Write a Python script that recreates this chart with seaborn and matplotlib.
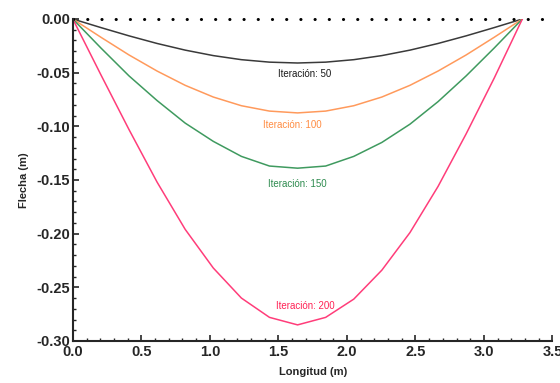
import numpy as np
import pandas as pd
import matplotlib
matplotlib.use("Agg")
import matplotlib.pyplot as plt
from matplotlib.ticker import MultipleLocator
import seaborn as sns

# Datos
longitud = [0.0, 0.205, 0.41, 0.615, 0.82, 1.025, 1.23, 1.435, 1.64,
            1.845, 2.05, 2.255, 2.46, 2.665, 2.87, 3.075, 3.28]
flecha_50 = [0.0, -0.008, -0.0157, -0.0228, -0.029, -0.0341, -0.0379, -0.0402, -0.041,
             -0.0402, -0.0379, -0.0341, -0.029, -0.0228, -0.0157, -0.008, 0.0]
flecha_100 = [0.0, -0.017, -0.0335, -0.0485, -0.0618, -0.0727, -0.0808, -0.0858, -0.0875,
              -0.0858, -0.0808, -0.0727, -0.0618, -0.0485, -0.0335, -0.017, 0.0]
flecha_150 = [0.0, -0.027, -0.053, -0.076, -0.097, -0.114, -0.128, -0.137, -0.139,
              -0.137, -0.128, -0.115, -0.098, -0.077, -0.053, -0.027, 0.0]
flecha_200 = [0.0, -0.052, -0.103, -0.152, -0.196, -0.232, -0.260, -0.278, -0.285,
              -0.278, -0.261, -0.234, -0.199, -0.156, -0.107, -0.055, 0.0]
series = ["Iteración: 50", "Iteración: 100", "Iteración: 150", "Iteración: 200"]
colores = ["#3a3a3a", "#ff9a5c", "#3f9a5f", "#ff3d7a"]
colores_texto = ["#1a1a1a", "#ff8c42", "#2e8b4f", "#ff2255"]
pos_etiquetas = [(1.69, -0.051), (1.60, -0.099), (1.64, -0.154), (1.70, -0.267)]

df = pd.DataFrame({
    "Longitud": longitud * 4,
    "Flecha": flecha_50 + flecha_100 + flecha_150 + flecha_200,
    "Serie": sum([[s] * len(longitud) for s in series], []),
})

sns.set_style("ticks")
plt.rcParams['font.family'] = ['Liberation Sans', 'DejaVu Sans']

fig = plt.figure(figsize=(5.6, 3.83), dpi=100)
ax = fig.add_axes([0.130, 0.1097, 0.8566, 0.8407])

sns.lineplot(data=df, x="Longitud", y="Flecha", hue="Serie", palette=colores,
             linewidth=1.1, legend=False, ax=ax)

# Línea de referencia punteada en cero
ax.plot([0, 3.5], [0, 0], color="black", linestyle=(0, (0.05, 4.6)), linewidth=2.2,
        dash_capstyle="round", solid_capstyle="round", clip_on=False)

for s, (xt, yt), c in zip(series, pos_etiquetas, colores_texto):
    ax.text(xt, yt, s, color=c, fontsize=7, ha="center", va="center")

ax.set_xlim(0, 3.5)
ax.set_ylim(-0.30, 0.0)
ax.xaxis.set_major_locator(MultipleLocator(0.5))
ax.xaxis.set_minor_locator(MultipleLocator(0.1))
ax.yaxis.set_major_locator(MultipleLocator(0.05))
ax.yaxis.set_minor_locator(MultipleLocator(0.01))
ax.set_xticklabels([f"{v:.1f}" for v in ax.get_xticks()])
ax.set_yticklabels([f"{v:.2f}" for v in ax.get_yticks()])
ax.tick_params(which="major", direction="in", length=4, width=1.2, labelsize=10.5, pad=2)
ax.tick_params(axis="x", which="major", pad=3)
ax.tick_params(which="minor", direction="in", length=2.5, width=1.0)
for lab in ax.get_xticklabels() + ax.get_yticklabels():
    lab.set_fontweight("bold")

ax.set_xlabel("Longitud (m)", fontsize=8, fontweight="bold", labelpad=6)
ax.set_ylabel("Flecha (m)", fontsize=8, fontweight="bold", labelpad=5)

sns.despine(ax=ax)
ax.spines["left"].set_linewidth(1.5)
ax.spines["bottom"].set_linewidth(1.5)

fig.savefig("out.png", dpi=100)
